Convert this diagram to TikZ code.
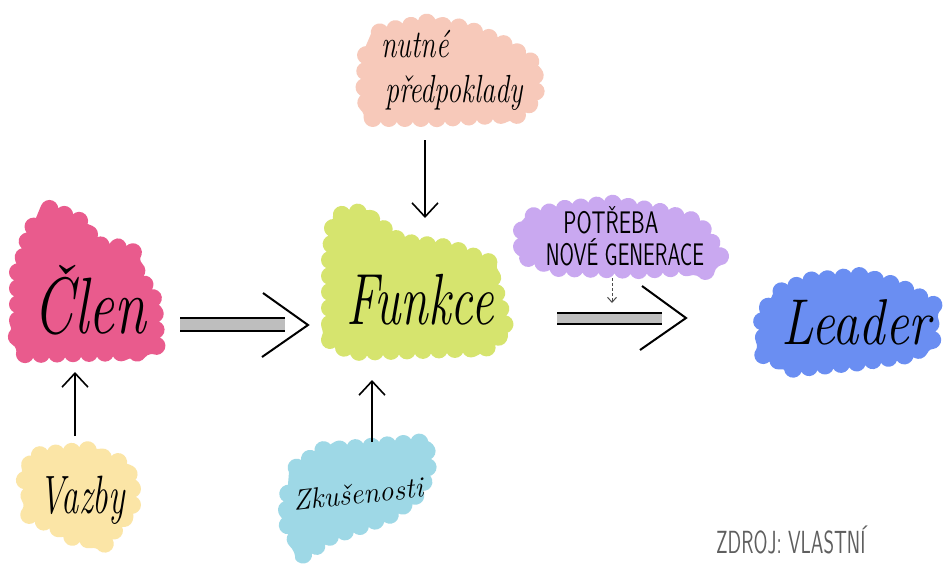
\documentclass[tikz,border=0pt]{standalone}
\usetikzlibrary{arrows.meta,decorations.pathmorphing}
\definecolor{cpink}{RGB}{233,91,141}
\definecolor{clime}{RGB}{214,228,110}
\definecolor{cpeach}{RGB}{247,201,186}
\definecolor{cyell}{RGB}{251,229,166}
\definecolor{ccyan}{RGB}{158,216,230}
\definecolor{clav}{RGB}{201,168,240}
\definecolor{cblue}{RGB}{106,142,242}
\definecolor{cbar}{RGB}{190,190,190}
\definecolor{csrc}{RGB}{95,95,95}
\tikzset{
  blob/.style={fill=#1, draw=#1, line width=2pt, line join=round,
    decorate, decoration={bumps, segment length=32pt, amplitude=8pt}},
  hand/.style={font=\fontsize{#1}{#1}\selectfont\itshape, inner sep=0pt, transform shape},
  caps/.style={font=\fontsize{#1}{#1}\selectfont\sffamily, inner sep=0pt, transform shape},
  arr/.style={line width=1.6pt, -{Straight Barb[length=14pt,width=26pt,line width=1.6pt]}},
  darr/.style={line width=1pt, densely dashed, -{Straight Barb[length=5pt,width=9pt,line width=1pt]}, draw=black!70},
  rail/.style={line width=2.6pt},
  chev/.style={line width=2pt, line join=miter},
}
\begin{document}
\begin{tikzpicture}[x=1pt,y=-1pt]
\useasboundingbox (0,0) rectangle (944,563);
\fill[white] (0,0) rectangle (944,563);
% blobs
\path[blob=cpeach] (372,34) -- (420,24) -- (465,28) -- (508,46) -- (534,64) -- (536,98) -- (518,114) -- (440,118) -- (374,118) -- (364,98) -- (366,56) -- cycle;
\path[blob=cpink] (42,206) -- (72,218) -- (95,240) -- (126,250) -- (138,274) -- (154,300) -- (156,338) -- (138,352) -- (32,354) -- (18,338) -- (18,280) -- (28,240) -- cycle;
\path[blob=clime] (334,216) -- (362,212) -- (400,242) -- (450,248) -- (488,262) -- (498,300) -- (506,330) -- (486,348) -- (352,352) -- (330,340) -- (330,264) -- cycle;
\path[blob=cyell] (32,456) -- (80,451) -- (118,462) -- (132,478) -- (132,508) -- (116,528) -- (106,542) -- (80,538) -- (36,518) -- (26,484) -- cycle;
\path[blob=ccyan] (290,472) -- (322,451) -- (380,446) -- (426,442) -- (428,474) -- (414,498) -- (388,516) -- (332,536) -- (304,554) -- (286,522) -- cycle;
\path[blob=clav] (526,218) -- (560,210) -- (610,204) -- (660,212) -- (698,222) -- (716,250) -- (708,266) -- (640,270) -- (560,268) -- (522,256) -- (522,236) -- cycle;
\path[blob=cblue] (774,294) -- (810,281) -- (860,276) -- (898,286) -- (928,302) -- (932,338) -- (914,354) -- (860,362) -- (800,368) -- (766,356) -- (762,320) -- cycle;
% texts
\node[hand=28, align=left, yscale=1.4] (nut) at (452,70) {nutné\\[4pt]\hspace*{4pt}předpoklady};
\node[hand=50, xscale=1.15, yscale=1.6] (clen) at (90,300) {Člen};
\node[hand=50, yscale=1.45] (fun) at (420,300) {Funkce};
\node[hand=36, yscale=1.5, xscale=0.96] (vaz) at (82,500) {Vazby};
\node[hand=29, rotate=6] (zku) at (358,494) {Zkušenosti};
\node[hand=48, xscale=1.1, yscale=1.35] (lea) at (856,322) {Leader};
\node[caps=26, xscale=0.84, yscale=1.2] (pot1) at (611,220) {POTŘEBA};
\node[caps=26, xscale=0.8, yscale=1.2] (pot2) at (625,252) {NOVÉ GENERACE};
\node[caps=32, xscale=0.63, text=csrc, anchor=west] (src) at (716,540) {ZDROJ: VLASTNÍ};
% arrow coordinates
\coordinate (nutS) at (425,140);
\coordinate (funN) at (425,218);
\coordinate (vazN) at (75,436);
\coordinate (clenS) at (75,372);
\coordinate (zkuN) at (372,442);
\coordinate (funS) at (372,380);
\coordinate (potS) at (612,278);
\coordinate (railR) at (612,303);
% single arrows
\draw[arr] (nutS) -- (funN);
\draw[arr] (vazN) -- (clenS);
\draw[arr] (zkuN) -- (funS);
\draw[darr] (potS) -- (railR);
% double arrow left
\fill[cbar] (180,318) rectangle (285,331);
\draw[rail] (180,318) -- (285,318);
\draw[rail] (180,331) -- (285,331);
\draw[chev] (263,293) -- (308,325) -- (262,357);
% double arrow right
\fill[cbar] (557,313) rectangle (662,323);
\draw[rail] (557,313) -- (662,313);
\draw[rail] (557,324) -- (662,324);
\draw[chev] (642,286) -- (686,318) -- (640,350);
\end{tikzpicture}
\end{document}
